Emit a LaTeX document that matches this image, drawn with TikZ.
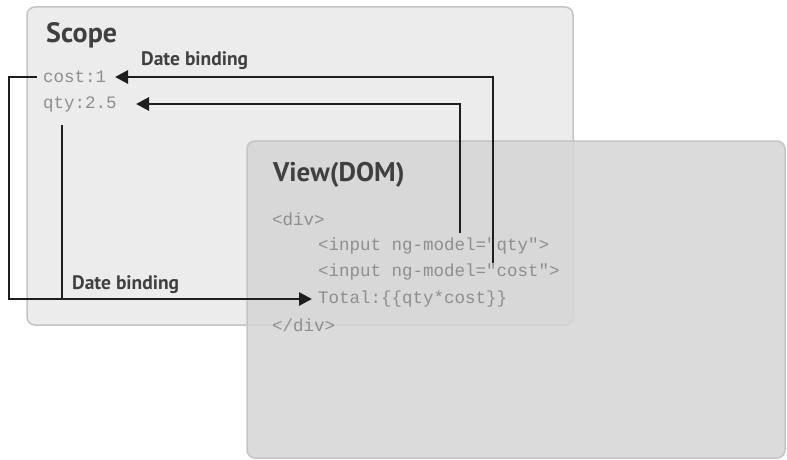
\documentclass[tikz,border=0pt]{standalone}
\usepackage{fontspec}
\setmainfont{Liberation Serif}
\newfontfamily\labfont{PT Sans}
\newfontfamily\codefont{Liberation Mono}
\usetikzlibrary{arrows.meta}
\definecolor{scopefill}{HTML}{ECECEC}
\definecolor{scopeline}{HTML}{C4C4C4}
\definecolor{viewfill}{HTML}{D5D5D5}
\definecolor{codegray}{HTML}{8E8E8E}
\definecolor{ink}{HTML}{1E1E1E}
\tikzset{
  panel/.style={rounded corners=8pt, draw=scopeline, line width=1.5pt},
  title/.style={font=\labfont\bfseries\fontsize{28}{30}\selectfont, text=ink!85, anchor=west, inner sep=0pt},
  bindlabel/.style={font=\labfont\bfseries\fontsize{19.5}{22}\selectfont, text=ink!85, anchor=west, inner sep=0pt},
  code/.style={font=\codefont\fontsize{17.5}{19}\selectfont, text=codegray, anchor=west, inner sep=0pt},
  wire/.style={draw=ink, line width=2.8pt},
  arr/.style={wire, -{Triangle[length=13pt,width=13pt]}},
}
\begin{document}
\begin{tikzpicture}[x=1pt,y=-1pt]
\useasboundingbox[fill=white] (0,0) rectangle (787,460);
% Scope panel
\draw[panel, fill=scopefill] (27,7) rectangle (573,325);
\node[title] (scope) at (46,35) {Scope};
\node[code] (cost) at (43,77) {cost:1};
\node[code] (qty) at (43,104) {qty:2.5};
\node[bindlabel] (db1) at (141,61) {Date binding};
% View panel
\draw[panel, fill=viewfill, fill opacity=0.85] (247,141) rectangle (785,458);
\node[title, font=\labfont\bfseries\fontsize{27}{30}\selectfont] (view) at (273,175) {View(DOM)};
\node[code] (div1) at (272,219) {<div>};
\node[code] (inq) at (318,246) {<input ng-model="qty">};
\node[code] (inc) at (318,272) {<input ng-model="cost">};
\node[code] (tot) at (318,299) {Total:\{\{qty*cost\}\}};
\node[code] (div2) at (272,325) {</div>};
\node[bindlabel] (db2) at (72,285) {Date binding};
% coordinates
\coordinate (a1) at (493,263);
\coordinate (a1c) at (493,77);
\coordinate (a1t) at (115,77);
\coordinate (a2) at (460,233);
\coordinate (a2c) at (460,104);
\coordinate (a2t) at (136,104);
\coordinate (b0) at (37,77);
\coordinate (b1) at (9,77);
\coordinate (b2) at (9,299);
\coordinate (bt) at (312,299);
\coordinate (q0) at (62,125);
\coordinate (q1) at (62,299);
% connectors
\draw[arr] (a1) -- (a1c) -- (a1t);
\draw[arr] (a2) -- (a2c) -- (a2t);
\draw[arr] (b0) -- (b1) -- (b2) -- (bt);
\draw[wire] (q0) -- (q1);
\end{tikzpicture}
\end{document}
